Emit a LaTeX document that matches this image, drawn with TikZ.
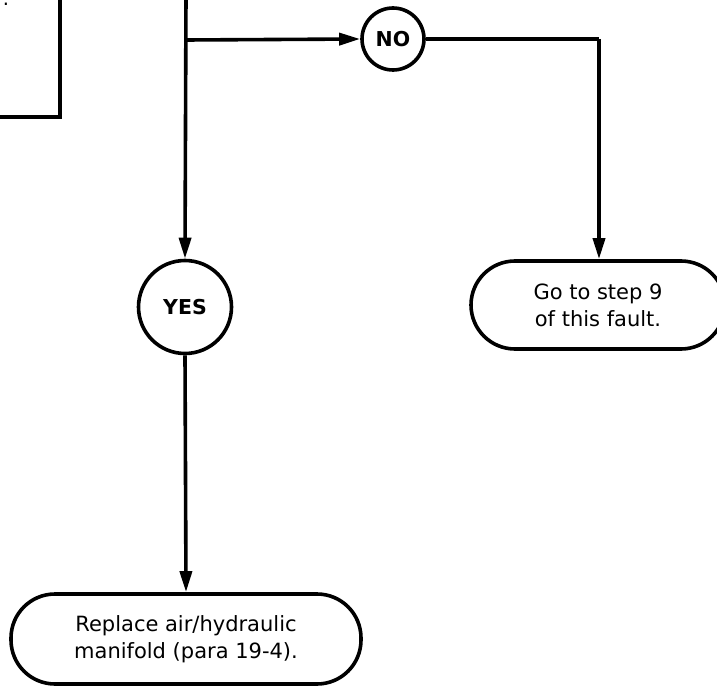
\documentclass[tikz,border=0pt]{standalone}
\usepackage{fontspec}
\setmainfont{DejaVu Sans}
\usetikzlibrary{arrows.meta}
\begin{document}
\begin{tikzpicture}[x=1pt,y=-1pt,
  line/.style={line width=3.6pt},
  arr/.style={line, -{Triangle[length=21pt,width=12pt]}},
  answer/.style={circle, draw, line width=3.6pt, inner sep=0pt, font=\bfseries\fontsize{20.5}{24}\selectfont},
  endbox/.style={rectangle, draw, line width=3.6pt, rounded corners=44pt, align=center, font=\fontsize{21}{27}\selectfont},
]
\useasboundingbox (0,0) rectangle (717,687);
\clip (0,0) rectangle (717,687);
% partial box at top left
\coordinate (bx1) at (60,-5);
\coordinate (bx2) at (60,117);
\coordinate (bx3) at (-5,117);
\draw[line] (bx1) -- (bx2) -- (bx3);
\node[anchor=base, inner sep=0pt, font=\fontsize{19.5}{26}\selectfont] (frag) at (6,6) {.};
% nodes
\node[answer, minimum size=62pt] (no) at (393,39) {NO};
\node[answer, minimum size=93pt] (yes) at (185,307) {YES};
\node[endbox, minimum width=254pt, minimum height=88pt] (go) at (598,305) {Go to step 9\\of this fault.};
\node[endbox, minimum width=350pt, minimum height=90pt] (rep) at (186,639) {Replace air/hydraulic\\manifold (para 19-4).};
% connectors
\coordinate (top) at (186,-5);
\coordinate (junc) at (186,40);
\coordinate (corner) at (599,39);
\draw[arr] (top) -- (yes.north);
\draw[arr] (junc) -- (no.west);
\draw[line] (no.east) -- (corner);
\draw[arr] (corner) -- (go.north -| corner);
\draw[arr] (yes.south) -- (rep.north);
\end{tikzpicture}
\end{document}
